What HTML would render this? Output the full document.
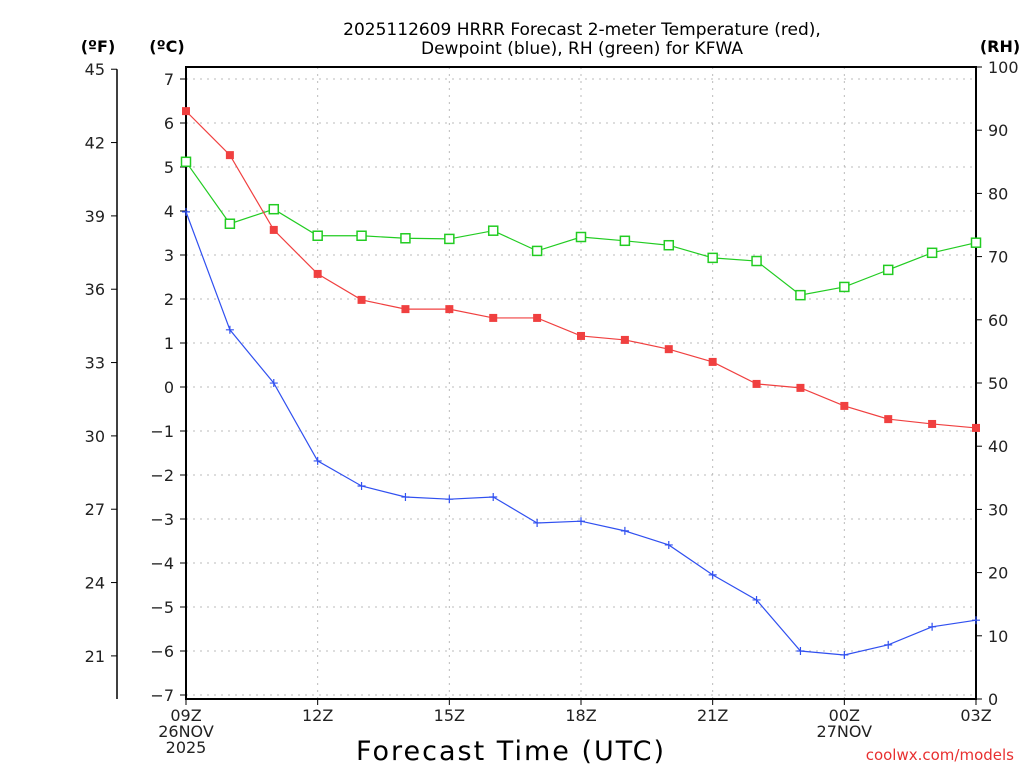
<!DOCTYPE html>
<html><head><meta charset="utf-8"><style>
body{margin:0;background:#fff;}
svg text{font-family:"DejaVu Sans","Liberation Sans",sans-serif;}
</style></head><body>
<svg id="chart" width="1024" height="768" viewBox="0 0 1024 768">
<g id="grid"></g>
<g id="axes"></g>
<g id="series"></g>
<text x="582" y="35" text-anchor="middle" font-size="17">2025112609 HRRR Forecast 2-meter Temperature (red),</text>
<text x="582" y="54" text-anchor="middle" font-size="17">Dewpoint (blue), RH (green) for KFWA</text>
<text x="98" y="52" text-anchor="middle" font-size="16" font-weight="bold">(ºF)</text>
<text x="167" y="52" text-anchor="middle" font-size="16" font-weight="bold">(ºC)</text>
<text x="1000" y="52" text-anchor="middle" font-size="16" font-weight="bold">(RH)</text>
<text x="511" y="760" text-anchor="middle" font-size="27" letter-spacing="2">Forecast Time (UTC)</text>
<text x="1014" y="760" text-anchor="end" font-size="15" fill="#e83030">coolwx.com/models</text>
</svg>
<script>
const hours=["09Z","10Z","11Z","12Z","13Z","14Z","15Z","16Z","17Z","18Z","19Z","20Z","21Z","22Z","23Z","00Z","01Z","02Z","03Z"];
const tempC=[6.27,5.27,3.57,2.57,1.98,1.77,1.77,1.57,1.57,1.16,1.07,0.86,0.57,0.07,-0.02,-0.43,-0.73,-0.84,-0.93];
const dewC=[3.98,1.30,0.09,-1.68,-2.25,-2.5,-2.55,-2.5,-3.09,-3.05,-3.27,-3.59,-4.27,-4.84,-6.0,-6.09,-5.86,-5.45,-5.30];
const rh=[85.0,75.2,77.5,73.3,73.3,72.9,72.8,74.1,70.9,73.1,72.5,71.8,69.8,69.3,63.9,65.2,67.9,70.6,72.2];
const cTicks=[7,6,5,4,3,2,1,0,-1,-2,-3,-4,-5,-6,-7];
const fTicks=[45,42,39,36,33,30,27,24,21];
const rhTicks=[100,90,80,70,60,50,40,30,20,10,0];
const xLabels=[[0,"09Z","26NOV","2025"],[3,"12Z"],[6,"15Z"],[9,"18Z"],[12,"21Z"],[15,"00Z","27NOV"],[18,"03Z"]];
const L=186,R=976,T=67,B=699;
const xs=i=>L+i*(R-L)/18;
const yC=c=>387-c*44;
const yF=f=>yC((f-32)*5/9);
const yRH=r=>B-r*(B-T)/100;
const NS="http://www.w3.org/2000/svg";
function mk(p,tag,a,txt){const e=document.createElementNS(NS,tag);for(const k in a)e.setAttribute(k,a[k]);if(txt!==undefined)e.textContent=txt;p.appendChild(e);return e;}
const G=document.getElementById('grid'),A=document.getElementById('axes'),S=document.getElementById('series');
cTicks.forEach(c=>{const y=yC(c);
 const l=mk(G,'line',{x1:L,x2:R,y1:y,y2:y,stroke:'#bbb','stroke-dasharray':'2,5'});
 const t=mk(A,'line',{x1:L-6,x2:L,y1:y,y2:y,stroke:'#000'});
 const tx=mk(A,'text',{x:L-12,y:y+6,'text-anchor':'end','font-size':'16',fill:'#222'},(c<0?'\u2212':'')+Math.abs(c));});
xLabels.forEach(d=>{const x=xs(d[0]);
 if(d[0]>0&&d[0]<18){const l=mk(G,'line',{x1:x,x2:x,y1:T,y2:B,stroke:'#bbb','stroke-dasharray':'2,5'});}
 const t=mk(A,'line',{x1:x,x2:x,y1:B,y2:B+6,stroke:'#000'});
 for(let k=1;k<d.length;k++){const tx=mk(A,'text',{x:x,y:B+22+(k-1)*16,'text-anchor':'middle','font-size':'16',fill:'#222'},d[k]);}});
const fl=mk(A,'line',{x1:117,x2:117,y1:yF(45),y2:B,stroke:'#000','stroke-width':1.5});
fTicks.forEach(f=>{const y=yF(f);const t=mk(A,'line',{x1:111,x2:117,y1:y,y2:y,stroke:'#000'});
 const tx=mk(A,'text',{x:105,y:y+6,'text-anchor':'end','font-size':'16',fill:'#222'},f);});
rhTicks.forEach(r=>{const y=yRH(r);const t=mk(A,'line',{x1:R,x2:R+6,y1:y,y2:y,stroke:'#000'});
 const tx=mk(A,'text',{x:R+12,y:y+6,'font-size':'16',fill:'#222'},r);});
const box=mk(A,'rect',{x:L,y:T,width:R-L,height:B-T,fill:'none',stroke:'#000','stroke-width':2});
function line(vals,yf,col,name){const pts=vals.map((v,i)=>xs(i)+','+yf(v)).join(' ');const p=mk(S,'polyline',{points:pts,fill:'none',stroke:col,'stroke-width':1.2});}
line(rh,yRH,'#22cc22','rh');line(tempC,yC,'#f04040','temperature');line(dewC,yC,'#3050f0','dewpoint');
rh.forEach((v,i)=>{const m=mk(S,'rect',{x:xs(i)-4.5,y:yRH(v)-4.5,width:9,height:9,fill:'#fff',stroke:'#22cc22','stroke-width':1.5});});
tempC.forEach((v,i)=>{const m=mk(S,'rect',{x:xs(i)-4,y:yC(v)-4,width:8,height:8,fill:'#f04040'});});
dewC.forEach((v,i)=>{const x=xs(i),y=yC(v);const m=mk(S,'path',{d:`M${x-4},${y}H${x+4}M${x},${y-4}V${y+4}`,stroke:'#3050f0','stroke-width':1.2});});
</script>
</body></html>
